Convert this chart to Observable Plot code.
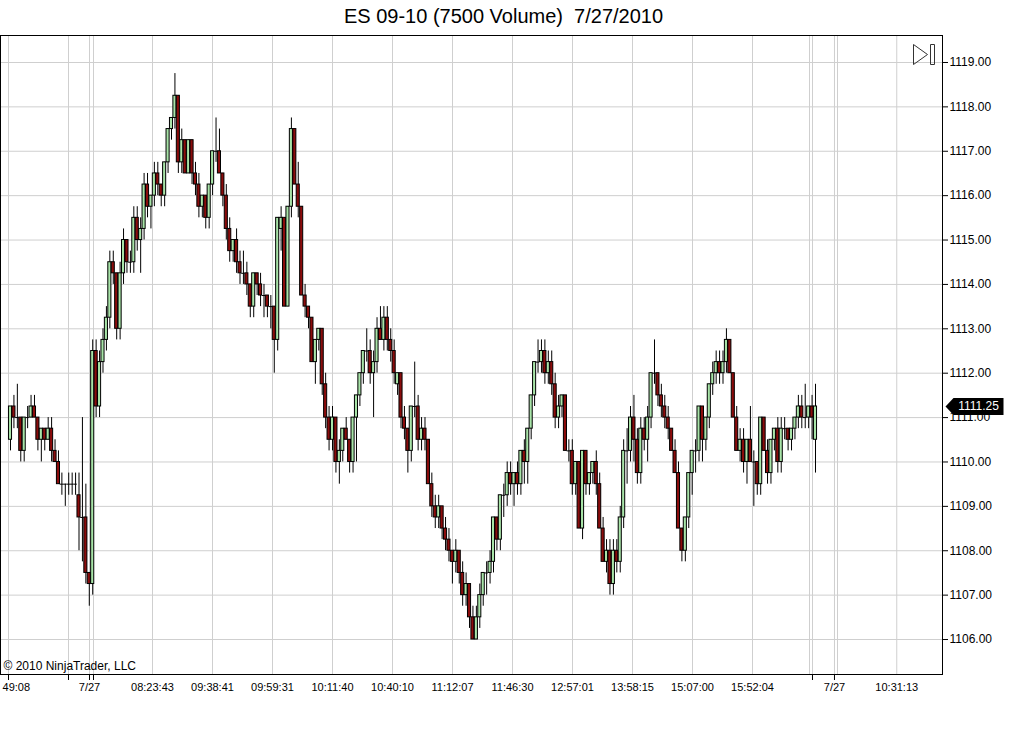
<!DOCTYPE html>
<html><head><meta charset="utf-8">
<script src="https://cdn.jsdelivr.net/npm/d3@7"></script>
<script src="https://cdn.jsdelivr.net/npm/@observablehq/plot@0.6"></script>
<style>
html,body{margin:0;padding:0;background:#fff;}
#chart{width:1016px;height:730px;overflow:hidden;}
</style></head><body><div id="chart"></div>
<script>
const title = "ES 09-10 (7500 Volume) \u00A07/27/2010";
const copyright = "© 2010 NinjaTrader, LLC";
const lastPrice = 1111.25;
const priceTicks = [1106,1107,1108,1109,1110,1111,1112,1113,1114,1115,1116,1117,1118,1119];
const tickBars = [-0.58,16.93,23.06,24.23,41.45,58.97,76.48,94.0,111.52,129.03,146.55,164.06,181.58,199.1,216.61,233.25,234.12,240.54,241.42,258.72];
const tickLabels = ["49:08","","7/27","","08:23:43","09:38:41","09:59:31","10:11:40","10:40:10","11:12:07","11:46:30","12:57:01","13:58:15","15:07:00","15:52:04","","","7/27","","10:31:13"];
const markedTicks = [-0.58,16.93,23.06,24.23,234.12,240.54];

const open = [
1110.5,1111.25,1111,1111,1110.25,1111,1111,1111.25,1111,1110.5,1110.75,1110.5,1110.75,1110.25,1110,1109.5,1109.5,1109.5,
1109.5,
1109.5,1109.25,1108.75,1108.75,1107.5,1107.25,1112.5,1111.25,1112.25,1112.75,1113.25,1114.5,1114.25,1113,1114.25,1115,
1114.5,
1114.5,1115.5,1115,1115.25,1116.25,1115.75,1116,1116.5,1116.25,1116,1116.75,1117.5,1117.75,1118.25,1116.75,1117.25,1116.5,1117.25,1116.5,1116.25,1115.75,1116,1115.5,1116.25,1117,1117,1116.5,1116,1115.25,1114.75,1115,1114.5,1114.25,
1114.25,1114,
1113.5,1114.25,1114,1113.75,1113.75,1113.5,1113.5,1112.75,1115.25,1115.5,
1113.5,1115.75,1117.5,1116.25,1115.75,1113.75,1113.5,1113.25,1112.25,1112.75,
1113,1111.75,1111,1110.5,1111,1110,1110.25,1110.75,1110.5,1110,
1111,1111.5,1112,1112.5,1112.5,1112,1112.25,1113,1112.75,1113.25,
1112.75,1112.5,1111.75,1112,1111,1110.75,1110.25,1111.25,1111.25,1110.5,
1110.75,1110.5,1109.5,1109,1108.75,1109,1108.5,1108.25,1108,1107.75,
1108,1107.5,1107,1107.25,1106.5,1106,1106.5,1107,1107.5,1107.5,
1107.75,1108.75,1108.25,1109.25,1109.25,1109.75,1109.5,1109.75,1109.5,1110.25,
1110,1110.75,1111.5,1112.25,1112.25,1112.5,1112,1112.25,1111.75,1111,
1111.25,1111.5,1110.25,1110.25,1109.5,1110,1108.5,1110.25,1109.5,1109.75,
1110,1109.5,1108.5,1107.75,1108,1107.25,1108,1107.75,1108.75,1110.25,
1110.25,1111,1110.5,1109.75,1110.75,1110.5,1111,1112,1112,1111.5,
1111.25,1111,1110.75,
1110.25,
1109.75,1108.5,1108,1108.75,1109.75,
1110.25,
1110.25,1111.25,1110.5,1111,1111.75,1112,1112.25,1112,1112.25,1112.75,
1112,1111,1110.25,1110.5,1110,1110.5,1110,1110,1109.5,1111,
1110.25,1109.75,1110.5,1110.75,1110,1110.75,1110.75,1110.5,1110.75,1111,
1111.25,1111,1111,1111.25,1110.5];
const high = [
1111.25,1111.5,1111.75,1111,1111,1111.25,1111.5,1111.5,1111,1110.75,1110.75,1111,1111,1110.5,1110.25,1109.75,1109.5,1109.75,
1109.75,
1109.75,1109.75,1111,1109.5,1107.5,1112.75,1112.75,1112.5,1113,1113.5,1114.75,1114.75,1114.25,1114.5,1115.25,1115,
1114.75,
1115.75,1115.75,1115.5,1116.5,1116.5,1116,1116.75,1116.75,1116.25,1116.75,1117.5,1117.75,1118.75,1118.25,1117.5,1117.25,1117.25,1117.25,1116.75,1116.5,1116,1116,1116.25,1117,1117.75,1117.5,1116.5,1116.25,1115.5,1115,1115.25,1114.75,1114.75,
1114.5,1114,
1114.25,1114.25,1114.25,1114,1113.75,1113.75,1113.5,1115.5,1115.75,1115.5,
1115.75,1117.75,1117.5,1116.75,1115.75,1114,1113.5,1113.25,1112.75,1113,
1113,1112,1111.25,1111.25,1111,1110.5,1110.75,1111,1110.5,1111,
1111.5,1112,1112.5,1113,1112.75,1112.5,1113.25,1113.5,1113.5,1113.5,
1113,1112.75,1112,1112,1111.25,1110.75,1111.25,1112.25,1111.5,1111,
1111,1110.5,1109.75,1109.25,1109.25,1109,1108.75,1108.5,1108,1108.25,
1108,1107.75,1107.5,1107.25,1106.75,1106.75,1107.25,1107.5,1107.75,1108,
1108.75,1108.75,1109.25,1109.5,1110,1110,1109.75,1110,1110.25,1110.5,
1110.75,1111.5,1112.25,1112.75,1112.75,1112.75,1112.5,1112.5,1112,1111.5,
1111.5,1111.5,1110.5,1110.5,1110,1110,1110.25,1110.25,1109.75,1110,
1110.25,1109.75,1108.75,1108.25,1108.25,1108.25,1108.25,1109,1110.5,1110.75,
1111.25,1111.5,1110.75,1111,1111,1111.25,1112,1112.75,1112,1111.75,
1111.5,1111.25,1110.75,
1110.5,
1110,1108.5,1108.75,1109.75,1110.25,
1110.5,
1111.25,1111.25,1111,1111.75,1112.25,1112.5,1112.5,1112.5,1113,1112.75,
1112,1111.25,1110.75,1110.75,1110.5,1111.25,1110.25,1110,1111,1111,
1110.5,1110.5,1110.75,1111,1111,1111,1110.75,1110.75,1111,1111.5,
1111.5,1111.75,1111.25,1111.5,1111.75];
const low = [
1110.25,1110.75,1110.75,1110,1110,1110.75,1111,1111,1110.25,1110,1110.25,1110.5,1110,1110,1109.5,1109.25,1109,1109.25,
1109.25,
1109.25,1108,1107.75,1107.25,1106.75,1107,1111,1111,1112,1112.5,1113,1114,1112.75,1112.75,1114,1114.25,
1114.25,
1114.25,1114.75,1114.25,1115,1115.5,1115.25,1115.75,1116,1115.75,1115.75,1116.5,1117.25,1117.5,1116.5,1116.5,1116.5,1116.5,1116.25,1116,1115.5,1115.5,1115.25,1115.25,1116,1116.75,1116.5,1115.75,1115,1114.5,1114.5,1114.25,1114,1114,
1113.75,1113.25,
1113.25,1113.75,1113.5,1113.25,1113.25,1113,1112,1112.5,1114.75,1113.5,
1113.5,1115.5,1116.25,1115.5,1113.75,1113.25,1113,1112.25,1111.75,1112.5,
1111.5,1110.75,1110.25,1110.25,1109.75,1109.5,1110,1110.5,1109.75,1109.75,
1110,1111.25,1111.75,1112.25,1111.75,1111,1112,1112.75,1112.5,1112.5,
1112.25,1111.75,1111.5,1110.75,1110.5,1109.75,1110,1111,1110.25,1110.25,
1110.25,1109.5,1108.75,1108.5,1108.5,1108.25,1108,1107.75,1107.25,1107.5,
1107.25,1106.75,1106.75,1106.25,1106,1106,1106.25,1106.75,1107,1107.25,
1107.5,1108,1108,1108.75,1109,1109.25,1109,1109.25,1109.25,1109.5,
1109.5,1110.5,1111.25,1112,1112,1111.75,1111.75,1111.5,1110.75,1110.75,
1111,1110.25,1110,1109.25,1109.25,1108.5,1108.25,1109.25,1109.25,1109.5,
1109.25,1108.5,1107.75,1107.5,1107,1107,1107.5,1107.5,1108.5,1109.5,
1110,1110,1109.5,1109.5,1110.25,1110,1110.75,1111.75,1111.25,1111,
1110.75,1110.5,1110.25,
1109.75,
1108.5,1107.75,1107.75,1108.5,1109.25,
1109.75,
1110,1110,1110.25,1110.75,1111.5,1111.75,1111.75,1111.75,1112,1112,
1111,1110.25,1110,1109.75,1109.5,1110,1109,1109.25,1109.25,1110.25,
1109.5,1109.5,1110.25,1109.75,1109.75,1110.5,1110.25,1110.25,1110.5,1110.75,
1110.75,1110.75,1110.75,1110.5,1109.75];
const close = [
1111.25,1111,1111,1110.25,1111,1111,1111.25,1111,1110.5,1110.75,1110.5,1110.75,1110.25,1110,1109.5,1109.5,1109.5,1109.5,
1109.5,
1109.5,1108.75,1108.75,1107.5,1107.25,1112.5,1111.25,1112.25,1112.75,1113.25,1114.5,1114.25,1113,1114.25,1115,1114.5,
1114.5,
1115.5,1115,1115.25,1116.25,1115.75,1116,1116.5,1116.25,1116,1116.75,1117.5,1117.75,1118.25,1116.75,1117.25,1116.5,1117.25,1116.5,1116.25,1115.75,1116,1115.5,1116.25,1117,1117,1116.5,1116,1115.25,1114.75,1115,1114.5,1114.25,1114.25,
1114,1113.5,
1114.25,1114,1113.75,1113.75,1113.5,1113.5,1112.75,1115.5,1115.5,1113.5,
1115.75,1117.5,1116.25,1115.75,1113.75,1113.5,1113.25,1112.25,1112.75,1113,
1111.75,1111,1110.5,1111,1110,1110.25,1110.75,1110.5,1110,1111,
1111.5,1112,1112.5,1112.5,1112,1112.25,1113,1112.75,1113.25,1112.75,
1112.5,1112,1112,1111,1110.75,1110.25,1111.25,1111.25,1110.5,1110.75,
1110.5,1109.5,1109,1108.75,1109,1108.5,1108.25,1108,1107.75,1108,
1107.5,1107,1107.25,1106.5,1106,1106.5,1107,1107.5,1107.5,1107.75,
1108.75,1108.25,1109.25,1109.25,1109.75,1109.5,1109.75,1109.5,1110.25,1110,
1110.75,1111.5,1112.25,1112.25,1112.5,1112,1112.25,1111.75,1111,1111.25,
1111.5,1110.25,1110.25,1109.5,1110,1108.5,1110.25,1109.5,1109.75,1110,
1109.5,1108.5,1107.75,1108,1107.25,1108,1107.75,1108.75,1110.25,1110.25,
1111,1110.5,1109.75,1110.75,1110.5,1111,1112,1112,1111.5,1111.25,
1111,1110.75,1110.25,
1109.75,
1108.5,1108,1108.75,1109.75,1110.25,
1110.25,
1111.25,1110.5,1111,1111.75,1112,1112.25,1112,1112.25,1112.75,1112,
1111,1110.25,1110.5,1110,1110.5,1110,1110,1109.5,1111,1110.25,
1109.75,1110.5,1110.75,1110,1110.75,1110.75,1110.5,1110.75,1111,1111.25,
1111,1111,1111.25,1111,1111.25];

const upColor = "#a8e4a8";
const downColor = "#8b0c0c";
const gridColor = "#cfcfcf";
const fontFamily = "'Liberation Sans', Arial, sans-serif";

const bars = open.map((o, i) => ({i, open: o, high: high[i], low: low[i], close: close[i]}));
const N = bars.length;
const firstPx = 10, lastPx = 815, plotRightPx = 942;
const step = (lastPx - firstPx) / (N - 1);
const xDomain = [-firstPx / step, (plotRightPx - firstPx) / step];
const yDomain = [1105.212, 1119.608];
const labelMap = new Map(tickBars.map((t, k) => [t, tickLabels[k]]));

const priceTag = {draw(ctx) {
  ctx.moveTo(0, 0); ctx.lineTo(8, -8.5); ctx.lineTo(58, -8.5); ctx.lineTo(58, 8.5); ctx.lineTo(8, 8.5); ctx.closePath();
}};
const playIcon = {draw(ctx) {
  ctx.moveTo(0, 0); ctx.lineTo(14, 10); ctx.lineTo(0, 20); ctx.closePath();
  ctx.moveTo(17, 0); ctx.lineTo(21, 0); ctx.lineTo(21, 20); ctx.lineTo(17, 20); ctx.closePath();
}};

const chart = Plot.plot({
  width: 1016, height: 730,
  marginLeft: 0, marginRight: 74, marginTop: 35, marginBottom: 56,
  style: {fontFamily, fontSize: "11px", color: "black", background: "white"},
  x: {domain: xDomain, axis: null, label: null},
  y: {domain: yDomain, axis: null, label: null},
  color: {type: "identity"},
  marks: [
    Plot.gridY(priceTicks, {stroke: gridColor, strokeOpacity: 1}),
    Plot.gridX(tickBars, {stroke: gridColor, strokeOpacity: 1}),
    Plot.ruleX(bars, {x: "i", y1: "low", y2: "high", stroke: "black", strokeWidth: 1}),
    Plot.rect(bars.filter(d => d.open !== d.close), {
      x1: d => d.i - 0.45, x2: d => d.i + 0.45, y1: "open", y2: "close",
      fill: d => d.close > d.open ? upColor : downColor, stroke: "black", strokeWidth: 1
    }),
    Plot.ruleY(bars.filter(d => d.open === d.close), {
      y: "open", x1: d => d.i - 0.5, x2: d => d.i + 0.5, stroke: "black"
    }),
    Plot.frame({stroke: "black"}),
    Plot.axisY(priceTicks, {anchor: "right", tickSize: 5, tickPadding: 2, textAnchor: "start",
      tickFormat: d => d.toFixed(2), fontSize: 12, label: null}),
    Plot.axisX(markedTicks, {anchor: "bottom", tickSize: 6, tickFormat: () => "", label: null}),
    Plot.axisX(tickBars, {anchor: "bottom", tickSize: 0, tickPadding: 9,
      tickFormat: d => (d === tickBars[0] ? "" : labelMap.get(d)), fontSize: 11, label: null}),
    Plot.text([tickLabels[0]], {x: () => tickBars[0], frameAnchor: "bottom", textAnchor: "start",
      lineAnchor: "top", dx: -6, dy: 9, fontSize: 11}),
    Plot.text([title], {frameAnchor: "top", dx: 32, dy: -19, fontSize: 20, lineAnchor: "middle"}),
    Plot.text([copyright], {frameAnchor: "bottom-left", textAnchor: "start", dx: 3, dy: -8, fontSize: 12, lineAnchor: "middle"}),
    Plot.dot([lastPrice], {y: d => d, frameAnchor: "right", symbol: priceTag, fill: "black", stroke: "none", dx: 3}),
    Plot.text([lastPrice], {y: d => d, frameAnchor: "right", text: d => d.toFixed(2), fill: "white",
      textAnchor: "middle", dx: 36, fontSize: 12}),
    Plot.dot([0], {frameAnchor: "top-right", symbol: playIcon, fill: "none", stroke: "#333", strokeWidth: 1, dx: -29, dy: 9})
  ]
});
document.getElementById("chart").appendChild(chart);
</script>
</body></html>
